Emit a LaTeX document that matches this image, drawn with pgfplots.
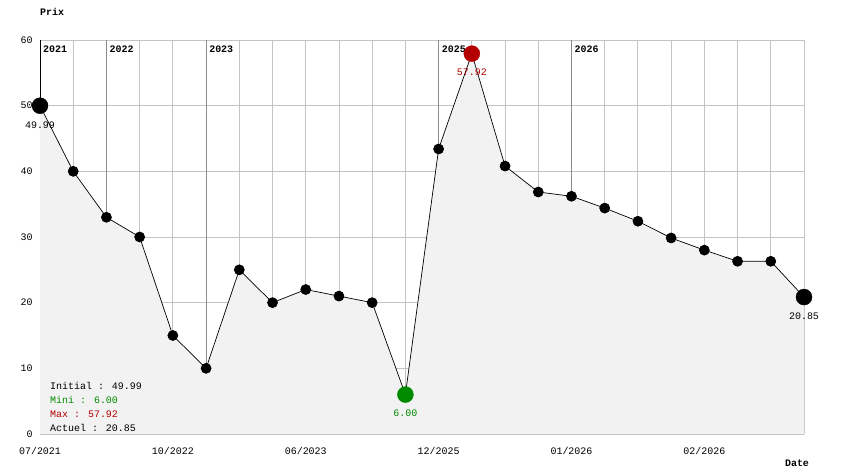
\documentclass[border=0pt]{standalone}
\usepackage{fontspec}
\setmainfont{Liberation Mono}
\usepackage{pgfplots}
\usepackage{pgfplotstable}
\pgfplotsset{compat=1.18}
\definecolor{fillgray}{HTML}{F2F2F2}
\definecolor{gridgray}{HTML}{C4C4C4}
\definecolor{yeargray}{HTML}{8C8C8C}
\definecolor{maxred}{HTML}{B40000}
\definecolor{mingreen}{HTML}{008A00}

\pgfplotstableread{
x y
0 49.99
1 40
2 33
3 30
4 15
5 10
6 25
7 20
8 22
9 21
10 20
11 6.00
12 43.4
13 57.92
14 40.8
15 36.85
16 36.2
17 34.4
18 32.4
19 29.85
20 28.0
21 26.3
22 26.3
23 20.85
}\datatable

\begin{document}
\begin{tikzpicture}[x=1bp,y=1bp]
\useasboundingbox[fill=white] (0,0) rectangle (844,474);
\begin{axis}[
  at={(40bp,40bp)}, anchor=south west, scale only axis,
  width=764bp, height=394bp,
  xmin=0, xmax=23, ymin=0, ymax=60,
  axis line style={draw=none},
  xtick={0,...,23},
  xticklabels={07/2021,,,,10/2022,,,,06/2023,,,,12/2025,,,,01/2026,,,,02/2026,,,},
  ytick={0,10,...,60},
  major tick length=0pt,
  grid=major, grid style={gridgray, line width=0.9bp},
  extra x ticks={2,5,12,16}, extra x tick labels={},
  extra x tick style={grid style={yeargray, line width=0.9bp}},
  tick label style={font=\fontsize{10}{12}\selectfont},
  xticklabel style={yshift=-10bp},
  yticklabel style={xshift=-4bp},
  /pgf/number format/assume math mode=true,
  clip=false,
]
\draw[black, line width=0.9bp] (axis cs:0,0) -- (axis cs:0,60);
\addplot[fill=fillgray, draw=none] table[x=x,y=y] {\datatable} \closedcycle;
\node[anchor=north west, font=\bfseries\fontsize{10}{12}\selectfont, inner sep=0pt] at (axis cs:0,60) [xshift=3bp, yshift=-6bp] {2021};
\node[anchor=north west, font=\bfseries\fontsize{10}{12}\selectfont, inner sep=0pt] at (axis cs:2,60) [xshift=3bp, yshift=-6bp] {2022};
\node[anchor=north west, font=\bfseries\fontsize{10}{12}\selectfont, inner sep=0pt] at (axis cs:5,60) [xshift=3bp, yshift=-6bp] {2023};
\node[anchor=north west, font=\bfseries\fontsize{10}{12}\selectfont, inner sep=0pt] at (axis cs:12,60) [xshift=3bp, yshift=-6bp] {2025};
\node[anchor=north west, font=\bfseries\fontsize{10}{12}\selectfont, inner sep=0pt] at (axis cs:16,60) [xshift=3bp, yshift=-6bp] {2026};
\addplot[black, line width=0.7bp, mark=*, mark size=5bp, mark options={fill=black}] table[x=x,y=y] {\datatable};
\addplot[only marks, mark=*, mark size=8bp, black, mark options={fill=black}] coordinates {(0,49.99) (23,20.85)};
\addplot[only marks, mark=*, mark size=8bp, maxred, mark options={fill=maxred}] coordinates {(13,57.92)};
\addplot[only marks, mark=*, mark size=8bp, mingreen, mark options={fill=mingreen}] coordinates {(11,6.00)};
\node[font=\fontsize{10}{12}\selectfont] at (axis cs:0,49.99) [yshift=-19bp] {49.99};
\node[font=\fontsize{10}{12}\selectfont, text=maxred] at (axis cs:13,57.92) [yshift=-19bp] {57.92};
\node[font=\fontsize{10}{12}\selectfont, text=mingreen] at (axis cs:11,6.00) [yshift=-19bp] {6.00};
\node[font=\fontsize{10}{12}\selectfont] at (axis cs:23,20.85) [yshift=-19bp] {20.85};
\end{axis}
\node[anchor=west, font=\bfseries\fontsize{10}{12}\selectfont, inner sep=0pt] at (40,462) {Prix};
\node[anchor=center, font=\bfseries\fontsize{10}{12}\selectfont, inner sep=0pt] at (797,11) {Date};
\node[anchor=west, font=\fontsize{10}{12}\selectfont, inner sep=0pt] at (50,88) {Initial : 49.99};
\node[anchor=west, font=\fontsize{10}{12}\selectfont, inner sep=0pt, text=mingreen] at (50,74) {Mini : 6.00};
\node[anchor=west, font=\fontsize{10}{12}\selectfont, inner sep=0pt, text=maxred] at (50,60) {Max : 57.92};
\node[anchor=west, font=\fontsize{10}{12}\selectfont, inner sep=0pt] at (50,46) {Actuel : 20.85};
\end{tikzpicture}
\end{document}
